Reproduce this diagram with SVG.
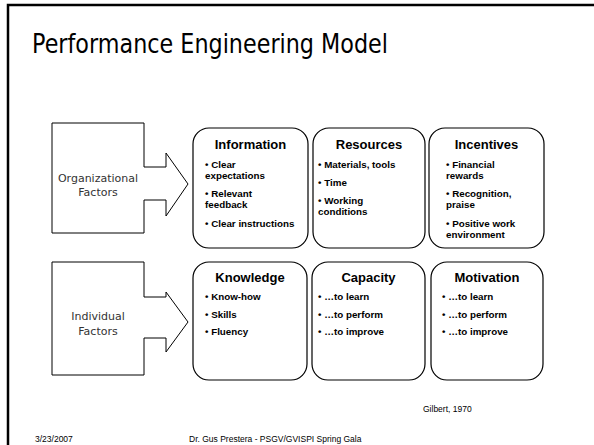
<svg xmlns="http://www.w3.org/2000/svg" width="594" height="445" viewBox="0 0 594 445">
<style>
.frame{stroke:#000;stroke-width:2.5;fill:none}
.box{fill:#fff;stroke:#000;stroke-width:1.2}
.arrow{fill:#fff;stroke:#000;stroke-width:1}
.ttl{font-family:"Liberation Sans",Arial,sans-serif;font-weight:bold;font-size:13px;text-anchor:middle;fill:#000}
.bul{font-family:"Liberation Sans",Arial,sans-serif;font-weight:bold;font-size:9.8px;fill:#000}
.lbl{font-family:"DejaVu Sans",Verdana,sans-serif;font-size:11px;text-anchor:middle;fill:#333}
.foot{font-family:"Liberation Sans",Arial,sans-serif;font-size:8.5px;fill:#000}
</style>
<rect width="594" height="445" fill="#fff"/>
<path class="frame" d="M8 445 V5 H594"/>
<text x="32" y="53" font-family="'DejaVu Sans',Verdana,sans-serif" font-size="27" textLength="356" lengthAdjust="spacingAndGlyphs" fill="#000">Performance Engineering Model</text>

<g id="org-factors">
<polygon class="arrow" points="52,123 144,123 144,167 166,167 166,153 188,184 166,216 166,200 144,200 144,233 52,233"/>
<text class="lbl" x="98" y="182">Organizational</text>
<text class="lbl" x="98" y="196">Factors</text>
</g>
<g id="ind-factors">
<polygon class="arrow" points="52,262 144,262 144,297 166,297 166,292 188,322 166,352 166,338 144,338 144,375 52,375"/>
<text class="lbl" x="98" y="320">Individual</text>
<text class="lbl" x="98" y="335">Factors</text>
</g>

<g id="information">
<rect class="box" x="193" y="128" width="115" height="120" rx="16"/>
<text class="ttl" x="250.5" y="149">Information</text>
<text class="bul" x="205" y="168">• Clear</text>
<text class="bul" x="205" y="179">expectations</text>
<text class="bul" x="205" y="197">• Relevant</text>
<text class="bul" x="205" y="208">feedback</text>
<text class="bul" x="205" y="227">• Clear instructions</text>
</g>
<g id="resources">
<rect class="box" x="313" y="128" width="112" height="120" rx="16"/>
<text class="ttl" x="369" y="149">Resources</text>
<text class="bul" x="318" y="168">• Materials, tools</text>
<text class="bul" x="318" y="186">• Time</text>
<text class="bul" x="318" y="204">• Working</text>
<text class="bul" x="318" y="215">conditions</text>
</g>
<g id="incentives">
<rect class="box" x="429" y="128" width="115" height="120" rx="16"/>
<text class="ttl" x="486.5" y="149">Incentives</text>
<text class="bul" x="446" y="168">• Financial</text>
<text class="bul" x="446" y="179">rewards</text>
<text class="bul" x="446" y="197">• Recognition,</text>
<text class="bul" x="446" y="208">praise</text>
<text class="bul" x="446" y="227">• Positive work</text>
<text class="bul" x="446" y="238">environment</text>
</g>

<g id="knowledge">
<rect class="box" x="193" y="262" width="114" height="118" rx="16"/>
<text class="ttl" x="250" y="282">Knowledge</text>
<text class="bul" x="205" y="300">• Know-how</text>
<text class="bul" x="205" y="318">• Skills</text>
<text class="bul" x="205" y="335">• Fluency</text>
</g>
<g id="capacity">
<rect class="box" x="312" y="262" width="113" height="118" rx="16"/>
<text class="ttl" x="368.5" y="282">Capacity</text>
<text class="bul" x="318" y="300">• …to learn</text>
<text class="bul" x="318" y="318">• …to perform</text>
<text class="bul" x="318" y="335">• …to improve</text>
</g>
<g id="motivation">
<rect class="box" x="431" y="262" width="112" height="118" rx="16"/>
<text class="ttl" x="487" y="282">Motivation</text>
<text class="bul" x="442" y="300">• …to learn</text>
<text class="bul" x="442" y="318">• …to perform</text>
<text class="bul" x="442" y="335">• …to improve</text>
</g>

<g id="connectors"/>

<text class="foot" x="423" y="412">Gilbert, 1970</text>
<text class="foot" x="35" y="442">3/23/2007</text>
<text class="foot" x="189" y="442">Dr. Gus Prestera - PSGV/GVISPI Spring Gala</text>
</svg>
